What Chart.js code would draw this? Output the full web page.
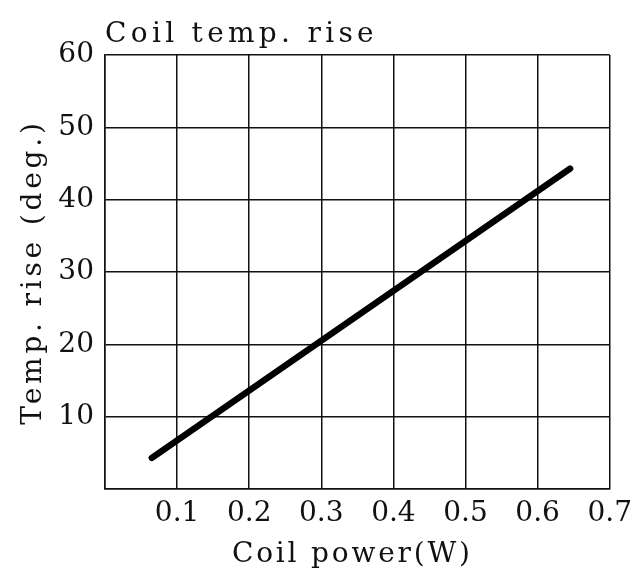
<!DOCTYPE html>
<html>
<head>
<meta charset="utf-8">
<script src="https://cdn.jsdelivr.net/npm/chart.js@4.4.1/dist/chart.umd.min.js"></script>
<style>
  html, body { margin: 0; padding: 0; background: #fff; }
  #wrap { width: 640px; height: 572px; }
</style>
</head>
<body>
<div id="wrap"><canvas id="coil-chart" width="640" height="572"></canvas></div>
<script>
// values
const powerW = [0.065, 0.645];
const tempRise = [4.3, 44.3];
const xTicks = [0, 0.1, 0.2, 0.3, 0.4, 0.5, 0.6, 0.7];
const yTicks = [0, 10, 20, 30, 40, 50, 60];

const chartTitle = 'Coil temp. rise';
const xTitle = 'Coil power(W)';
const yTitle = 'Temp. rise (deg.)';

const fontFamily = '"DejaVu Serif", "Liberation Serif", serif';
const ink = '#111';

// the original uses a wide fixed-pitch font, so titles are drawn here with extra letter spacing
function spacedText(c, text, x, y, spacing, align, angle) {
    c.save();
    c.translate(x, y);
    if (angle) c.rotate(angle);
    c.font = '28px ' + fontFamily;
    c.fillStyle = ink;
    c.letterSpacing = spacing + 'px';
    c.textAlign = align;
    c.textBaseline = 'alphabetic';
    c.fillText(text, 0, 0);
    c.restore();
}

const titles = {
    id: 'titles',
    afterDraw(chart) {
        const c = chart.ctx;
        const a = chart.chartArea;
        spacedText(c, chartTitle, a.left, a.top - 13, 4.3, 'left');
        spacedText(c, xTitle, (a.left + a.right) / 2 - 5, 562, 2.8, 'center');
        spacedText(c, yTitle, 41, (a.top + a.bottom) / 2, 3.8, 'center', -Math.PI / 2);
    }
};

const ctx = document.getElementById('coil-chart').getContext('2d');
const coilChart = new Chart(ctx, {
    type: 'scatter',
    data: {
        datasets: [{
            data: powerW.map((x, i) => ({ x: x, y: tempRise[i] })),
            showLine: true,
            borderColor: '#000',
            borderWidth: 6.5,
            borderCapStyle: 'round',
            pointRadius: 0,
            fill: false
        }]
    },
    options: {
        responsive: false,
        animation: false,
        layout: { padding: { top: 55, right: 30, left: 0, bottom: 0 } },
        plugins: {
            legend: { display: false },
            tooltip: { enabled: false }
        },
        scales: {
            x: {
                type: 'linear',
                min: xTicks[0],
                max: xTicks[xTicks.length - 1],
                afterBuildTicks: s => { s.ticks = xTicks.map(v => ({ value: v })); },
                afterFit: s => { s.height = 83; },
                grid: { color: ink, lineWidth: 1.5, drawTicks: false },
                border: { color: ink, width: 1.5 },
                ticks: {
                    color: ink,
                    padding: 8,
                    maxRotation: 0,
                    autoSkip: false,
                    font: { family: fontFamily, size: 28 },
                    callback: v => v === 0 ? '' : v.toFixed(1)
                }
            },
            y: {
                min: yTicks[0],
                max: yTicks[yTicks.length - 1],
                afterBuildTicks: s => { s.ticks = yTicks.map(v => ({ value: v })); },
                afterFit: s => { s.width = 105; },
                grid: { color: ink, lineWidth: 1.5, drawTicks: false },
                border: { color: ink, width: 1.5 },
                ticks: {
                    color: ink,
                    padding: 11,
                    autoSkip: false,
                    font: { family: fontFamily, size: 28 },
                    callback: v => v === 0 ? '' : String(v)
                }
            }
        }
    },
    plugins: [titles]
});
</script>
</body>
</html>
